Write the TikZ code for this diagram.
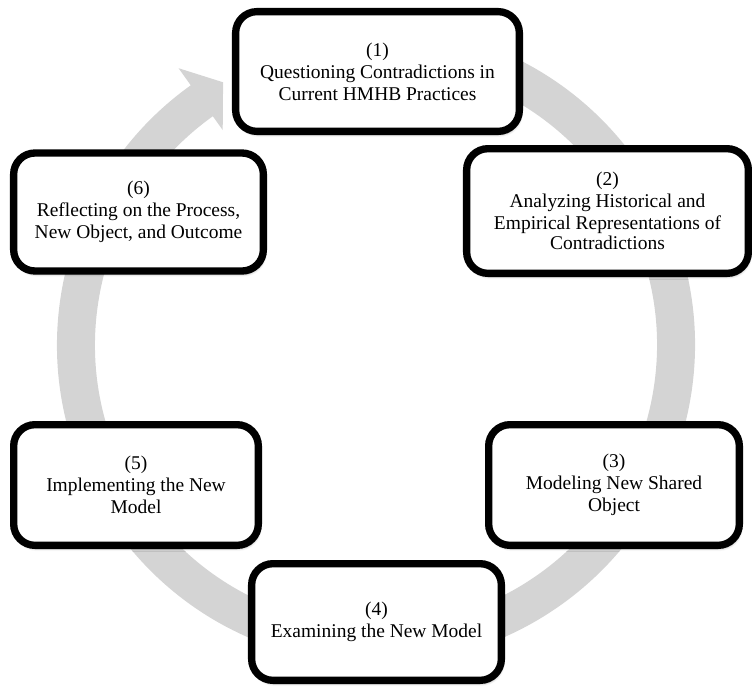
\documentclass[tikz,border=0pt]{standalone}
\usepackage{fontspec}
\setmainfont{Liberation Serif}
\usetikzlibrary{shadows.blur,calc}
\definecolor{ringgray}{RGB}{212,212,212}
\begin{document}
\begin{tikzpicture}[x=0.75pt,y=-0.75pt,
  stage/.style={draw=black, line width=5.5pt, fill=white, rounded corners=16pt,
    align=center, inner sep=0pt,
    font=\fontsize{14.6}{16.5}\selectfont,
    blur shadow={shadow xshift=1pt, shadow yshift=-2.5pt, shadow blur steps=6, shadow opacity=35}},
  ring/.style={draw=ringgray, line width=28.5pt},
]
\useasboundingbox (0,0) rectangle (752,686);
\coordinate (c) at (376,345);
% cycle ring with arrowhead
\draw[ring] ($(c)+(-80:300)$) arc[start angle=-80, end angle=235, radius=300];
\fill[ringgray] ($(c)+(234.5:340)$) -- ($(c)+(239.8:304)$) -- ($(c)+(234.5:264)$) -- cycle;
% stages
\node[stage, minimum width=212.8pt, minimum height=89.8pt] (s1) at (377.5,71.5)
  {(1)\\Questioning Contradictions in\\Current HMHB Practices};
\node[stage, minimum width=211.3pt, minimum height=93.5pt] (s2) at (607.5,211)
  {(2)\\Analyzing Historical and\\Empirical Representations of\\[-1.5pt]Contradictions};
\node[stage, minimum width=188pt, minimum height=90.5pt] (s3) at (614,485)
  {(3)\\Modeling New Shared\\Object};
\node[stage, minimum width=187.3pt, minimum height=87.5pt] (s4) at (376.5,622)
  {(4)\\Examining the New Model};
\node[stage, minimum width=183.5pt, minimum height=90.5pt] (s5) at (136,485)
  {(5)\\Implementing the New\\Model};
\node[stage, minimum width=187.3pt, minimum height=88.5pt] (s6) at (138.5,212)
  {(6)\\Reflecting on the Process,\\New Object, and Outcome};
\end{tikzpicture}
\end{document}
